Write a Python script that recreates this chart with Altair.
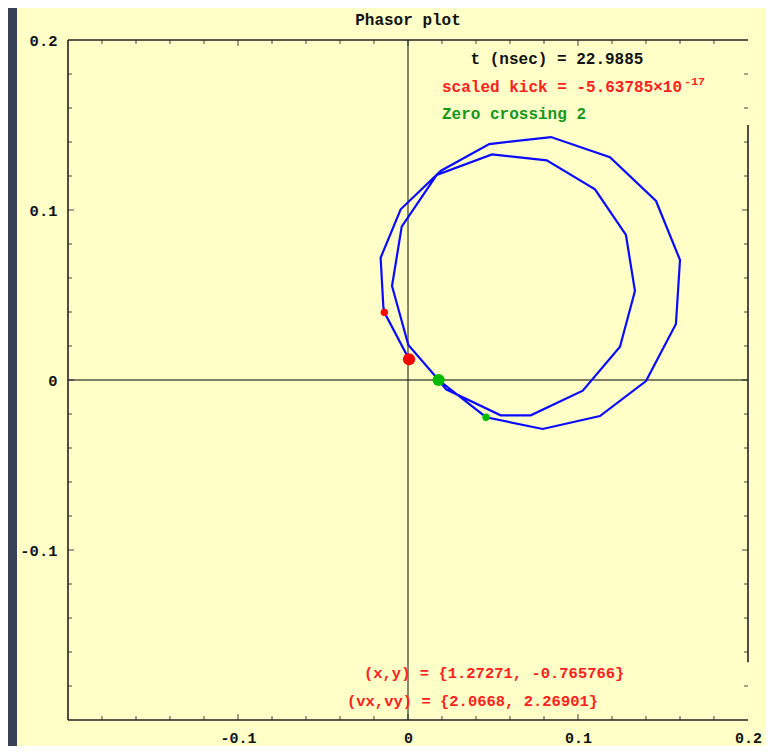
import altair as alt
import pandas as pd

# ---------------- data ----------------
# phasor trajectory, in time order
traj_x = [0.0180, 0.0224, 0.0545, 0.0722, 0.1028, 0.1247, 0.1335, 0.1282, 0.1100, 0.0816,
          0.0494, 0.0169, -0.0037, -0.0094, 0.0002, 0.0180, 0.0459, 0.0792, 0.1129, 0.1400,
          0.1576, 0.1600, 0.1459, 0.1188, 0.0841, 0.0478, 0.0194, -0.0043, -0.0161, -0.0145,
          -0.0139, 0.0006]
traj_y = [0.0000, -0.0055, -0.0208, -0.0208, -0.0063, 0.0196, 0.0524, 0.0853, 0.1122, 0.1292,
          0.1327, 0.1206, 0.0902, 0.0553, 0.0206, 0.0000, -0.0219, -0.0288, -0.0212, -0.0006,
          0.0329, 0.0706, 0.1053, 0.1310, 0.1429, 0.1388, 0.1231, 0.1004, 0.0719, 0.0431,
          0.0398, 0.0122]

# marker points: current kick, previous, zero crossing, previous
dot_x = [0.0006, -0.0139, 0.0180, 0.0459]
dot_y = [0.0122, 0.0398, 0.0000, -0.0219]
dot_color = ["#ff0000", "#ff0000", "#00bb00", "#00bb00"]
dot_size = [150, 55, 150, 55]

# axis tick labels
tick_labels = [-0.1, 0.0, 0.1, 0.2]
minor_ticks = [-0.18, -0.16, -0.14, -0.12, -0.08, -0.06, -0.04, -0.02,
               0.02, 0.04, 0.06, 0.08, 0.12, 0.14, 0.16, 0.18]
major_ticks = [-0.1, 0.0, 0.1]

# annotations
ann_text = ["t (nsec) = 22.9885", "scaled kick = -5.63785\u00d710", "-17", "Zero crossing 2",
            "(x,y) = {1.27271, -0.765766}", "(vx,vy) = {2.0668, 2.26901}"]
ann_x = [0.0368, 0.0200, 0.1625, 0.0200, -0.0259, -0.0359]
ann_y = [0.1888, 0.1724, 0.1752, 0.1565, -0.1726, -0.1888]
ann_color = ["#111111", "#ff2020", "#ff2020", "#16961a", "#ff2020", "#ff2020"]
ann_size = [16, 16, 11.5, 16, 15.5, 15.5]

title_text = "Phasor plot"
LO, HI = -0.2, 0.2

# ---------------- tables ----------------
traj = pd.DataFrame({"x": traj_x, "y": traj_y, "i": list(range(len(traj_x)))})
dots = pd.DataFrame({"x": dot_x, "y": dot_y, "c": dot_color, "s": dot_size})
ann = pd.DataFrame({"x": ann_x, "y": ann_y, "t": ann_text, "c": ann_color, "s": ann_size})
title_df = pd.DataFrame({"x": [0.0], "y": [0.2118], "t": [title_text]})

frame = pd.DataFrame({
    "x": [LO, LO, LO, HI], "x2": [LO, HI, HI, HI],
    "y": [LO, LO, HI, -0.166], "y2": [HI, LO, HI, 0.15],
})
origin_axes = pd.DataFrame({
    "x": [0.0, LO], "x2": [0.0, HI], "y": [LO, 0.0], "y2": [HI, 0.0],
    "c": ["#86866a", "#000000"], "w": [2.0, 1.2],
})

xt = []
for v in minor_ticks + major_ticks:
    ln = 12 if v in major_ticks else 8
    xt.append({"x": v, "y": LO, "s": ln})
    xt.append({"x": v, "y": HI, "s": ln})
xticks = pd.DataFrame(xt)
yt = []
for v in minor_ticks + major_ticks:
    ln = 12 if v in major_ticks else 8
    yt.append({"x": LO, "y": v, "s": ln})
    yt.append({"x": HI, "y": v, "s": ln})
yticks = pd.DataFrame(yt)

bg = pd.DataFrame({"a": [1]})

# ---------------- encodings ----------------
lab_expr = "datum.value == 0 ? '0' : (datum.value < 0 ? '-' : '') + format(abs(datum.value), '.1f')"
sc = alt.Scale(domain=[LO, HI], nice=False, zero=False)
x_axis = alt.Axis(values=tick_labels, title="", grid=False, domain=False, ticks=False, tickSize=0,
                  labelExpr=lab_expr, labelFont="Liberation Mono", labelFontWeight="bold",
                  labelFontSize=15, labelColor="#111111", labelPadding=17,
                  labelBaseline="middle", labelAlign="center", zindex=2)
y_axis = alt.Axis(values=tick_labels, title="", grid=False, domain=False, ticks=False, tickSize=0,
                  labelExpr=lab_expr, labelFont="Liberation Mono", labelFontWeight="bold",
                  labelFontSize=15.5, labelColor="#111111", labelPadding=11,
                  labelBaseline="middle", labelAlign="right", zindex=2)


def X(f="x"):
    return alt.X(f + ":Q", scale=sc, axis=x_axis)


def Y(f="y"):
    return alt.Y(f + ":Q", scale=sc, axis=y_axis)


panel = alt.Chart(bg).mark_rect(color="#ffffc8").encode(
    x=alt.value(-51), x2=alt.value(700), y=alt.value(-34), y2=alt.value(720)
)

axes_lines = alt.Chart(origin_axes).mark_rule().encode(
    x=X(), x2="x2:Q", y=Y(), y2="y2:Q",
    color=alt.Color("c:N", scale=None), strokeWidth=alt.StrokeWidth("w:Q", scale=None),
)

frame_lines = alt.Chart(frame).mark_rule(color="#222222", strokeWidth=1.6).encode(
    x=X(), x2="x2:Q", y=Y(), y2="y2:Q"
)

xtick_marks = alt.Chart(xticks).mark_tick(orient="vertical", clip=True, color="#222222",
                                          thickness=1.2).encode(
    x=X(), y=Y(), size=alt.Size("s:Q", scale=None)
)
ytick_marks = alt.Chart(yticks).mark_tick(orient="horizontal", clip=True, color="#222222",
                                          thickness=1.2).encode(
    x=X(), y=Y(), size=alt.Size("s:Q", scale=None)
)

line = alt.Chart(traj).mark_line(color="#0a0aff", strokeWidth=2.2, strokeJoin="miter").encode(
    x=X(), y=Y(), order="i:Q"
)

points = alt.Chart(dots).mark_circle(opacity=1).encode(
    x=X(), y=Y(), color=alt.Color("c:N", scale=None), size=alt.Size("s:Q", scale=None)
)

texts = alt.Chart(ann).mark_text(align="left", baseline="middle", font="Liberation Mono",
                                 fontWeight="bold").encode(
    x=X(), y=Y(), text="t:N", color=alt.Color("c:N", scale=None),
    size=alt.Size("s:Q", scale=None)
)

title = alt.Chart(title_df).mark_text(align="center", baseline="middle", font="Liberation Mono",
                                      fontSize=16, fontWeight="bold", color="#111111").encode(
    x=X(), y=Y(), text="t:N"
)

chart = alt.layer(
    panel, axes_lines, frame_lines, xtick_marks, ytick_marks, line, points, texts, title
).properties(
    width=680, height=680,
    autosize=alt.AutoSizeParams(type="none"),
    padding={"left": 60, "top": 32, "right": 17, "bottom": 26},
    background="#394159",
).configure_view(stroke=None)

chart.save("out.html", embed_options={"renderer": "svg", "actions": False})
